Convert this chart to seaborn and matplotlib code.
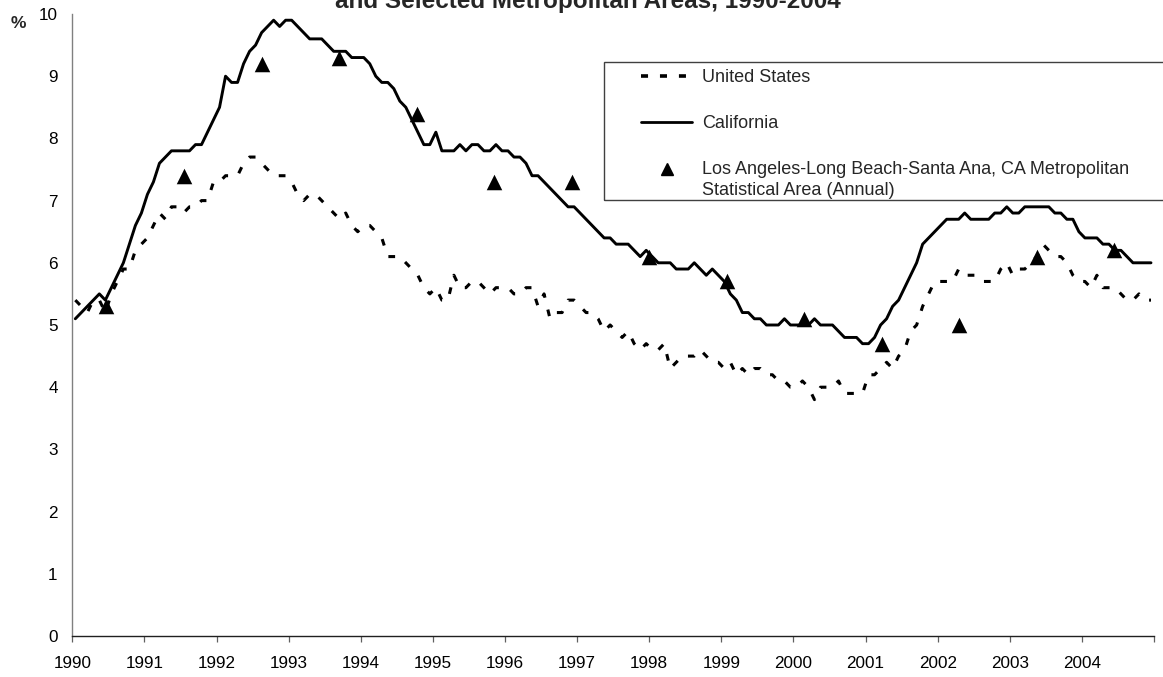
import numpy as np
import pandas as pd
import matplotlib
matplotlib.use("Agg")
import matplotlib.pyplot as plt
import seaborn as sns
from matplotlib.lines import Line2D
from matplotlib.patches import Rectangle

# ---------------- data ----------------
years = list(range(1990, 2005))
year_labels = [str(y) for y in years] + [""]

us_rate = [
    5.4, 5.3, 5.2, 5.4, 5.4, 5.2, 5.5, 5.7, 5.9, 5.9, 6.2, 6.3,   # 1990
    6.4, 6.6, 6.8, 6.7, 6.9, 6.9, 6.8, 6.9, 6.9, 7.0, 7.0, 7.3,   # 1991
    7.3, 7.4, 7.4, 7.4, 7.6, 7.7, 7.7, 7.6, 7.5, 7.4, 7.4, 7.4,   # 1992
    7.3, 7.1, 7.0, 7.1, 7.1, 7.0, 6.9, 6.8, 6.7, 6.8, 6.6, 6.5,   # 1993
    6.6, 6.6, 6.5, 6.4, 6.1, 6.1, 6.1, 6.0, 5.9, 5.8, 5.6, 5.5,   # 1994
    5.6, 5.4, 5.4, 5.8, 5.6, 5.6, 5.7, 5.7, 5.6, 5.5, 5.6, 5.6,   # 1995
    5.6, 5.5, 5.5, 5.6, 5.6, 5.3, 5.5, 5.1, 5.2, 5.2, 5.4, 5.4,   # 1996
    5.3, 5.2, 5.2, 5.1, 4.9, 5.0, 4.9, 4.8, 4.9, 4.7, 4.6, 4.7,   # 1997
    4.6, 4.6, 4.7, 4.3, 4.4, 4.5, 4.5, 4.5, 4.6, 4.5, 4.4, 4.4,   # 1998
    4.3, 4.4, 4.2, 4.3, 4.2, 4.3, 4.3, 4.2, 4.2, 4.1, 4.1, 4.0,   # 1999
    4.0, 4.1, 4.0, 3.8, 4.0, 4.0, 4.0, 4.1, 3.9, 3.9, 3.9, 3.9,   # 2000
    4.2, 4.2, 4.3, 4.4, 4.3, 4.5, 4.6, 4.9, 5.0, 5.3, 5.5, 5.7,   # 2001
    5.7, 5.7, 5.7, 5.9, 5.8, 5.8, 5.8, 5.7, 5.7, 5.7, 5.9, 6.0,   # 2002
    5.8, 5.9, 5.9, 6.0, 6.1, 6.3, 6.2, 6.1, 6.1, 6.0, 5.8, 5.7,   # 2003
    5.7, 5.6, 5.8, 5.6, 5.6, 5.6, 5.5, 5.4, 5.4, 5.5, 5.4, 5.4,   # 2004
]

ca_rate = [
    5.1, 5.2, 5.3, 5.4, 5.5, 5.4, 5.6, 5.8, 6.0, 6.3, 6.6, 6.8,   # 1990
    7.1, 7.3, 7.6, 7.7, 7.8, 7.8, 7.8, 7.8, 7.9, 7.9, 8.1, 8.3,   # 1991
    8.5, 9.0, 8.9, 8.9, 9.2, 9.4, 9.5, 9.7, 9.8, 9.9, 9.8, 9.9,   # 1992
    9.9, 9.8, 9.7, 9.6, 9.6, 9.6, 9.5, 9.4, 9.4, 9.4, 9.3, 9.3,   # 1993
    9.3, 9.2, 9.0, 8.9, 8.9, 8.8, 8.6, 8.5, 8.3, 8.1, 7.9, 7.9,   # 1994
    8.1, 7.8, 7.8, 7.8, 7.9, 7.8, 7.9, 7.9, 7.8, 7.8, 7.9, 7.8,   # 1995
    7.8, 7.7, 7.7, 7.6, 7.4, 7.4, 7.3, 7.2, 7.1, 7.0, 6.9, 6.9,   # 1996
    6.8, 6.7, 6.6, 6.5, 6.4, 6.4, 6.3, 6.3, 6.3, 6.2, 6.1, 6.2,   # 1997
    6.1, 6.0, 6.0, 6.0, 5.9, 5.9, 5.9, 6.0, 5.9, 5.8, 5.9, 5.8,   # 1998
    5.7, 5.5, 5.4, 5.2, 5.2, 5.1, 5.1, 5.0, 5.0, 5.0, 5.1, 5.0,   # 1999
    5.0, 5.0, 5.0, 5.1, 5.0, 5.0, 5.0, 4.9, 4.8, 4.8, 4.8, 4.7,   # 2000
    4.7, 4.8, 5.0, 5.1, 5.3, 5.4, 5.6, 5.8, 6.0, 6.3, 6.4, 6.5,   # 2001
    6.6, 6.7, 6.7, 6.7, 6.8, 6.7, 6.7, 6.7, 6.7, 6.8, 6.8, 6.9,   # 2002
    6.8, 6.8, 6.9, 6.9, 6.9, 6.9, 6.9, 6.8, 6.8, 6.7, 6.7, 6.5,   # 2003
    6.4, 6.4, 6.4, 6.3, 6.3, 6.2, 6.2, 6.1, 6.0, 6.0, 6.0, 6.0,   # 2004
]

la_years = list(range(1990, 2004))
la_rate = [5.3, 7.4, 9.2, 9.3, 8.4, 7.3, 7.3, 6.1, 5.7, 5.1, 4.7, 5.0, 6.1, 6.2]

series_labels = [
    "United States",
    "California",
    "Los Angeles-Long Beach-Santa Ana, CA Metropolitan\nStatistical Area (Annual)",
]
title_text = "and Selected Metropolitan Areas, 1990-2004"

# ---------------- frame ----------------
month_index = np.arange(len(ca_rate))
df = pd.DataFrame({
    "t": years[0] + (month_index + 0.5) / 12.0,
    "United States": us_rate,
    "California": ca_rate,
})
df_la = pd.DataFrame({"idx": np.arange(len(la_years)), "year": la_years, "rate": la_rate})

sns.set_theme(style="white")
plt.rcParams["font.family"] = ["Liberation Sans", "DejaVu Sans"]

W, H = 1163, 677
fig = plt.figure(figsize=(W / 100, H / 100), dpi=100)
L, R, T, B = 72.3, 1154.0, 14.0, 636.0
ax = fig.add_axes([L / W, 1 - B / H, (R - L) / W, (B - T) / H])

us_dash = (0, (2.2, 4.0))
sns.lineplot(data=df, x="t", y="United States", ax=ax, color="black",
             lw=2.2, linestyle=us_dash, legend=False)
sns.lineplot(data=df, x="t", y="California", ax=ax, color="black",
             lw=2.1, legend=False)

ax.set_xlim(1990, 2005)
ax.set_ylim(0, 10)
ax.set_xticks(range(1990, 2006))
ax.set_xticklabels(year_labels)
ax.set_yticks(range(0, 11))
ax.set_xlabel("")
ax.set_ylabel("")
for s in ["top", "right"]:
    ax.spines[s].set_visible(False)
ax.spines["left"].set_color("#808080")
ax.spines["bottom"].set_color("#202020")
for s in ["left", "bottom"]:
    ax.spines[s].set_linewidth(1.0)
ax.tick_params(axis="both", direction="out", length=4.5, width=0.9,
               color="#606060", labelsize=12.3, labelcolor="black", pad=6)
ax.tick_params(axis="x", pad=10)

# annual series on its own category axis
ax2 = ax.twiny()
sns.scatterplot(data=df_la, x="idx", y="rate", ax=ax2, marker="^", s=125,
                color="black", edgecolor="black", linewidth=0, legend=False)
ax2.set_xlim(-0.44, 13.51)
ax2.set_xticks([])
ax2.set_xlabel("")
for s in ax2.spines.values():
    s.set_visible(False)

# legend
handles = [
    Line2D([], [], color="black", lw=2.6, linestyle=(0, (1.95, 3.3))),
    Line2D([], [], color="black", lw=2.0),
    Line2D([], [], color="black", lw=0, marker="^", markersize=9),
]
leg = fig.legend(handles, series_labels, loc="upper left",
                 bbox_to_anchor=(641 / W, 1 - 69 / H), bbox_transform=fig.transFigure,
                 frameon=False, fontsize=13, handlelength=2.85, handletextpad=0.55,
                 labelspacing=1.6, borderpad=0, borderaxespad=0)
for t in leg.get_texts():
    t.set_linespacing(1.3)
# the marker of the two-line entry sits level with its first line
la_handle = leg.legend_handles[2]
la_handle.set_ydata(np.asarray(la_handle.get_ydata(), dtype=float) + 8.0)

fig.add_artist(Rectangle((604 / W, 1 - 200 / H), (1175 - 604) / W, (200 - 62) / H,
                         transform=fig.transFigure, fill=False,
                         edgecolor="#404040", lw=1.0))

fig.text(18 / W, 1 - 23 / H, "%", ha="center", va="center",
         fontsize=12.5, fontweight="bold")
fig.text(588 / W, 1 - 8 / H, title_text, ha="center", va="baseline",
         fontsize=17.5, fontweight="bold")

fig.savefig("out.png", dpi=100)
